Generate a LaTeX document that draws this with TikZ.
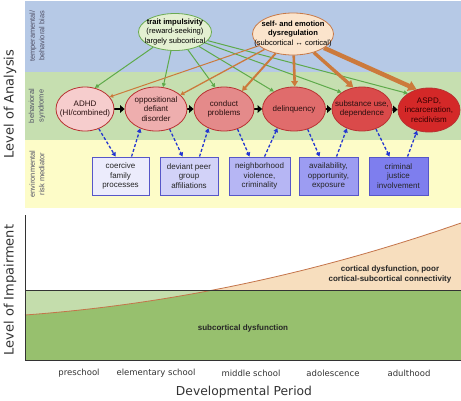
\documentclass[tikz,border=0pt]{standalone}
\usepackage{fontspec}
\setmainfont{Liberation Sans}
\newfontfamily\dv{DejaVu Sans}
\usetikzlibrary{shapes.geometric,arrows.meta}
\pgfdeclarelayer{bg}\pgfdeclarelayer{mid}\pgfsetlayers{bg,mid,main}
\definecolor{bandblue}{HTML}{B6C9E6}
\definecolor{bandgreen}{HTML}{C6DFB0}
\definecolor{bandyellow}{HTML}{FDFCC8}
\definecolor{ellbd}{HTML}{B83232}
\definecolor{e1}{HTML}{F6CDCD}
\definecolor{e2}{HTML}{EEAEAE}
\definecolor{e3}{HTML}{E48A8A}
\definecolor{e4}{HTML}{E06C6C}
\definecolor{e5}{HTML}{DA4A4A}
\definecolor{e6}{HTML}{D42828}
\definecolor{etxt}{HTML}{2A1010}
\definecolor{boxbd}{HTML}{5656C8}
\definecolor{b1}{HTML}{ECECFC}
\definecolor{b2}{HTML}{D2D2F8}
\definecolor{b3}{HTML}{B6B6F4}
\definecolor{b4}{HTML}{9C9CF2}
\definecolor{b5}{HTML}{7E7EEE}
\definecolor{envblue}{HTML}{2436D0}
\definecolor{lgreen}{HTML}{5EAA4A}
\definecolor{lorange}{HTML}{CC7A3C}
\definecolor{traitfill}{HTML}{E4F0D2}
\definecolor{traitbd}{HTML}{6AAA52}
\definecolor{selffill}{HTML}{FBE4CC}
\definecolor{selfbd}{HTML}{C87A48}
\definecolor{bandtxt}{HTML}{505066}
\definecolor{chlight}{HTML}{C4DDAC}
\definecolor{chdark}{HTML}{97C06E}
\definecolor{chpeach}{HTML}{F7DEBE}
\definecolor{curvecol}{HTML}{C4744A}
\definecolor{axisgray}{HTML}{333333}
\begin{document}
\begin{tikzpicture}[x=1pt,y=-1pt,
  ell/.style={ellipse, draw=ellbd, line width=0.8pt, inner sep=0pt, minimum height=44pt},
  etext/.style={align=center, inner sep=0pt, font=\fontsize{8}{9.4}\selectfont, text=etxt},
  topell/.style={ellipse, line width=0.8pt, inner sep=0pt},
  ttext/.style={align=center, inner sep=0pt, font=\fontsize{7.6}{9.6}\selectfont, text=black},
  boxn/.style={rectangle, draw=boxbd, line width=0.9pt, minimum height=38pt, inner sep=0pt, align=center, font=\fontsize{8}{9.8}\selectfont, text=black!85},
  blk/.style={line width=2.6pt, -{Triangle[length=4.5pt,width=7.5pt]}},
  envarr/.style={draw=envblue, line width=1.3pt, dash pattern=on 3pt off 2pt, -{Triangle[length=4pt,width=4.5pt]}},
  grn/.style={draw=lgreen, line width=1pt, -{Triangle[length=4pt,width=4pt]}},
  org/.style={draw=lorange, -{Triangle[length=2pt 1.4,width=2pt 1.8]}},
  bandlbl/.style={rotate=90, align=center, inner sep=0pt, font=\fontsize{7.4}{9.4}\selectfont, text=bandtxt},
  axtitle/.style={rotate=90, inner sep=0pt, font=\dv\fontsize{13}{15}\selectfont, text=axisgray},
  tick/.style={inner sep=0pt, font=\dv\fontsize{8.5}{10}\selectfont, text=axisgray},
  boldlbl/.style={inner sep=0pt, align=center, font=\bfseries\fontsize{8}{10}\selectfont, text=black!85}
]
\useasboundingbox (0,0) rectangle (461,400);

% bands
\begin{pgfonlayer}{bg}
\fill[white] (0,0) rectangle (461,400);
\fill[bandblue] (25,1) rectangle (461,72);
\fill[bandgreen] (25,72) rectangle (461,140);
\fill[bandyellow] (25,140) rectangle (461,208);
\end{pgfonlayer}

\node[bandlbl] (lb1) at (37,36) {temperamental/\\behavioral bias};
\node[bandlbl] (lb2) at (37,106) {behavioral\\syndrome};
\node[bandlbl] (lb3) at (37,174) {environmental\\risk mediator};

\node[axtitle] (analysis) at (10,104) {Level of Analysis};
\node[axtitle] (impair) at (10,290) {Level of Impairment};

% top ellipses
\node[topell, draw=traitbd, fill=traitfill, minimum width=73pt, minimum height=37pt] (trait) at (175,32) {};
\node[ttext] (ttrait) at (trait) {\textbf{trait impulsivity}\\(reward-seeking)\\largely subcortical};
\node[topell, draw=selfbd, fill=selffill, minimum width=81pt, minimum height=42pt] (self) at (293,34) {};
\node[ttext] (tself) at (self) {\textbf{self- and emotion}\\\textbf{dysregulation}\\(subcortical ↔ cortical)};

% behavioral syndrome ellipses
\node[ell, fill=e1, minimum width=58pt] (adhd) at (85,109) {};
\node[etext] (tadhd) at (adhd) {ADHD\\(HI/combined)};
\node[ell, fill=e2, minimum width=62pt] (odd) at (156,109) {};
\node[etext] (todd) at (odd) {oppositional\\defiant\\disorder};
\node[ell, fill=e3, minimum width=60pt] (cond) at (224,109) {};
\node[etext] (tcond) at (cond) {conduct\\problems};
\node[ell, fill=e4, minimum width=63pt] (delq) at (294,109) {};
\node[etext] (tdelq) at (delq) {delinquency};
\node[ell, fill=e5, minimum width=60pt] (subs) at (362,109) {};
\node[etext] (tsubs) at (subs) {substance use,\\dependence};
\node[ell, fill=e6, minimum width=62pt] (aspd) at (429,110) {};
\node[etext, text=black!80!red] (taspd) at (aspd) {ASPD,\\incarceration,\\recidivism};

% environmental boxes
\node[boxn, fill=b1, minimum width=57pt] (coer) at (120.5,176) {coercive\\family\\processes};
\node[boxn, fill=b2, minimum width=58pt] (peer) at (189,176) {deviant peer\\group\\affiliations};
\node[boxn, fill=b3, minimum width=61pt] (neigh) at (259.5,176) {neighborhood\\violence,\\criminality};
\node[boxn, fill=b4, minimum width=59pt] (avail) at (328.5,176) {availability,\\opportunity,\\exposure};
\node[boxn, fill=b5, minimum width=59pt] (crim) at (398.5,176) {criminal\\justice\\involvement};

\begin{pgfonlayer}{mid}
% green lines from trait impulsivity
\draw[grn] (trait) -- (adhd.65);
\draw[grn] (trait) -- (odd.72);
\draw[grn] (trait) -- (cond.112);
\draw[grn] (trait) -- (delq.139);
\draw[grn] (trait) -- (subs.141);
\draw[grn] (trait) -- (aspd.142);
% orange lines from self-regulation
\draw[org, line width=1pt] (self) -- (adhd.26);
\draw[org, line width=1.3pt] (self) -- (odd.30);
\draw[org, line width=2pt] (self) -- (cond.45);
\draw[org, line width=2.6pt] (self) -- (delq.88);
\draw[org, line width=3.4pt] (self) -- (subs.112);
\draw[org, line width=4.5pt] (self) -- (aspd.121);
% black progression arrows
\draw[blk] (adhd) -- (odd);
\draw[blk] (odd) -- (cond);
\draw[blk] (cond) -- (delq);
\draw[blk] (delq) -- (subs);
\draw[blk] (subs) -- (aspd);
% environmental mediator arrows
\draw[envarr] (adhd.-55) -- ([xshift=24pt]coer.north west);
\draw[envarr] ([xshift=40pt]coer.north west) -- (odd.-129);
\draw[envarr] (odd.-56) -- ([xshift=23pt]peer.north west);
\draw[envarr] ([xshift=40pt]peer.north west) -- (cond.-129);
\draw[envarr] (cond.-56) -- ([xshift=21pt]neigh.north west);
\draw[envarr] ([xshift=36pt]neigh.north west) -- (delq.-131);
\draw[envarr] (delq.-56) -- ([xshift=21pt]avail.north west);
\draw[envarr] ([xshift=38pt]avail.north west) -- (subs.-128);
\draw[envarr] (subs.-55) -- ([xshift=21pt]crim.north west);
\draw[envarr] ([xshift=39pt]crim.north west) -- (aspd.-120);
\end{pgfonlayer}

% impairment chart
\fill[chlight] (25,290) rectangle (461,360);
\begin{scope}
\clip (25,290) rectangle (461,360);
\fill[chdark] (25,315) .. controls (170.3,304.3) and (315.7,273.6) .. (461,223) -- (461,360) -- (25,360) -- cycle;
\end{scope}
\begin{scope}
\clip (25,200) rectangle (461,290);
\fill[chpeach] (25,315) .. controls (170.3,304.3) and (315.7,273.6) .. (461,223) -- (461,360) -- (25,360) -- cycle;
\end{scope}
\draw[curvecol, line width=0.8pt] (25,315) .. controls (170.3,304.3) and (315.7,273.6) .. (461,223);
\draw[axisgray, line width=0.7pt] (25,290) -- (461,290);
\draw[axisgray, line width=0.7pt] (25,215) -- (25,360) -- (461,360);

\node[boldlbl] (subdys) at (243,328) {subcortical dysfunction};
\node[boldlbl] (cortdys) at (390,274) {cortical dysfunction, poor\\cortical-subcortical connectivity};

\node[tick] (t1) at (79,373) {preschool};
\node[tick] (t2) at (156,373) {elementary school};
\node[tick] (t3) at (251,373) {middle school};
\node[tick] (t4) at (333,373) {adolescence};
\node[tick] (t5) at (409,373) {adulthood};
\node[inner sep=0pt, font=\dv\fontsize{12.3}{14}\selectfont, text=axisgray] (devp) at (244,392) {Developmental Period};
\end{tikzpicture}
\end{document}
